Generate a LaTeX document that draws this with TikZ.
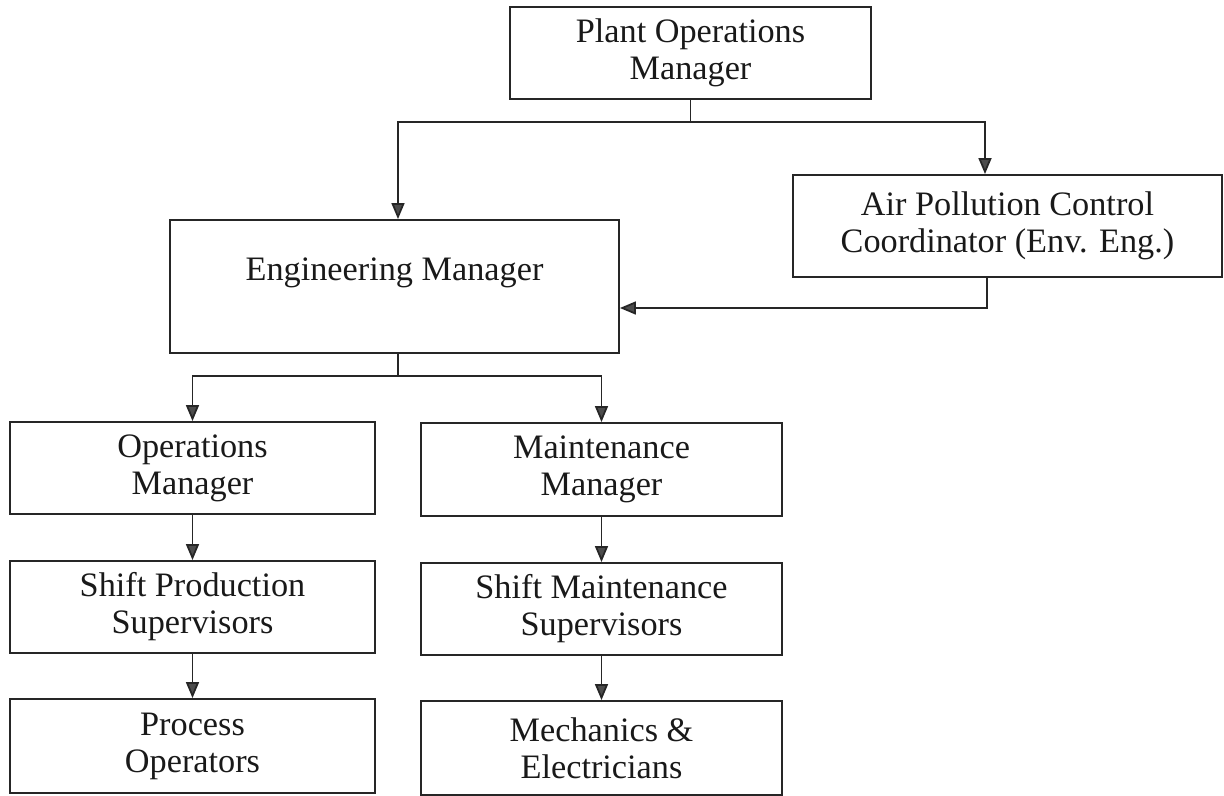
\documentclass[tikz,border=0pt]{standalone}
\usepackage{fontspec}
\setmainfont{Liberation Serif}
\usetikzlibrary{arrows, arrows.meta}
\usetikzlibrary{calc}

\begin{document}
\begin{tikzpicture}[x=0.02cm, y=-0.02cm,
    box/.style={draw=black!85, line width=1.1pt, align=center, inner sep=0pt, text=black!90, font=\fontsize{19.5}{21}\selectfont},
    arr/.style={draw=black!85, line width=1pt, -{Triangle[length=0.32cm, width=0.26cm, fill=black!70]}}]
      \useasboundingbox (0,0) rectangle (1224,795);

      \node[box, minimum width=7.22cm, minimum height=1.84cm] (pom) at (690.5,53) {Plant Operations\\Manager};
      \node[box, minimum width=8.58cm, minimum height=2.04cm] (apc) at (1007.5,226) {Air Pollution Control\\Coordinator (Env. Eng.)};
      \node[box, minimum width=8.98cm, minimum height=2.66cm, text depth=20pt] (em) at (394.5,286.5) {Engineering Manager};

      \node[box, minimum width=7.3cm, minimum height=1.84cm] (om) at (192.5,468) {Operations\\Manager};
      \node[box, minimum width=7.3cm, minimum height=1.84cm] (sps) at (192.5,607) {Shift Production\\Supervisors};
      \node[box, minimum width=7.3cm, minimum height=1.88cm] (po) at (192.5,746) {Process\\Operators};

      \node[box, minimum width=7.22cm, minimum height=1.86cm] (mm) at (601.5,469.5) {Maintenance\\Manager};
      \node[box, minimum width=7.22cm, minimum height=1.84cm] (sms) at (601.5,609) {Shift Maintenance\\Supervisors};
      \node[box, minimum width=7.22cm, minimum height=1.88cm] (me) at (601.5,748) {Mechanics \&\\Electricians};

      % bends of the connectors
      \coordinate (j1l) at (398,122);
      \coordinate (j1r) at (985,122);
      \coordinate (a1) at (987,308);
      \coordinate (j2) at (398,376);

      \draw[arr] (pom.south) |- (j1l) -- (j1l |- em.north);
      \draw[arr] (pom.south) |- (j1r) -- (j1r |- apc.north);
      \draw[arr] (a1 |- apc.south) -- (a1) -- (a1 -| em.east);
      \draw[arr] (j2 |- em.south) -- (j2) -| (om.north);
      \draw[arr] (j2 |- em.south) -- (j2) -| (mm.north);

      \foreach \a/\b in {om/sps, sps/po, mm/sms, sms/me}
        \draw[arr] (\a) -- (\b);
    \end{tikzpicture}
\end{document}
